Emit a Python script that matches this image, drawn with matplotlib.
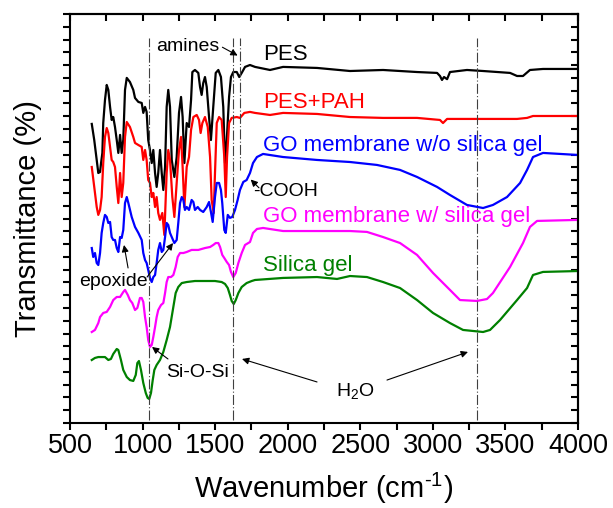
import matplotlib
matplotlib.use("Agg")
import matplotlib.pyplot as plt
from matplotlib.ticker import MultipleLocator, NullFormatter

plt.rcParams['font.family'] = ['Liberation Sans', 'DejaVu Sans']
plt.rcParams['mathtext.fontset'] = 'custom'
plt.rcParams['mathtext.rm'] = 'Liberation Sans'
plt.rcParams['mathtext.it'] = 'Liberation Sans:italic'

# FTIR spectra (wavenumber in cm-1, transmittance in a.u., offset)
pes_x = [650, 667, 684, 695, 707, 714, 723, 729, 741, 753, 764, 776, 787, 798, 810, 822, 833,
         845, 856, 867, 879, 891, 913, 936, 948, 971, 994, 1005, 1017, 1028, 1039, 1051, 1063,
         1074, 1086, 1097, 1108, 1120, 1132, 1143, 1155, 1166, 1177, 1189, 1201, 1219, 1235,
         1251, 1265, 1276, 1288, 1304, 1320, 1334, 1343, 1361, 1384, 1396, 1407, 1418, 1430,
         1442, 1458, 1471, 1487, 1504, 1522, 1540, 1556, 1568, 1580, 1596, 1609, 1625, 1649,
         1666, 1683, 1706, 1740, 1775, 1878, 1968, 2202, 2429, 2657, 2891, 3029, 3049, 3063,
         3077, 3098, 3118, 3235, 3346, 3532, 3580, 3621, 3669, 3759, 4000]
pes_y = [23.40, 22.14, 20.58, 19.56, 19.64, 20.34, 21.13, 23.47, 25.27, 26.45, 26.06, 24.73,
         23.71, 23.94, 23.16, 22.14, 21.13, 22.54, 21.13, 22.14, 26.06, 27.00, 26.68, 26.06,
         25.43, 25.12, 25.04, 24.26, 24.73, 24.34, 22.14, 21.36, 20.34, 21.36, 19.56, 18.47,
         19.56, 21.36, 19.56, 18.23, 20.03, 24.73, 26.06, 24.73, 20.58, 19.25, 20.81, 24.26,
         25.51, 23.94, 20.34, 23.47, 23.16, 25.27, 27.46, 27.62, 27.39, 26.29, 25.67, 26.60,
         27.07, 26.29, 23.94, 22.14, 24.73, 27.39, 27.62, 27.07, 24.73, 20.34, 22.14, 25.51,
         27.07, 27.46, 27.46, 27.07, 27.39, 27.86, 28.01, 27.86, 27.62, 27.86, 27.78, 27.54,
         27.62, 27.46, 27.39, 27.15, 26.84, 27.07, 26.90, 27.46, 27.62, 27.54, 27.39, 27.15,
         27.15, 27.62, 27.70, 27.70]

pah_x = [650, 667, 684, 695, 707, 718, 729, 741, 753, 764, 776, 787, 798, 810, 822, 833, 845,
         856, 867, 879, 891, 913, 936, 948, 971, 994, 1005, 1017, 1028, 1039, 1051, 1063, 1074,
         1086, 1097, 1108, 1120, 1136, 1150, 1166, 1177, 1189, 1205, 1219, 1235, 1251, 1265,
         1276, 1288, 1304, 1320, 1334, 1350, 1373, 1389, 1400, 1412, 1430, 1449, 1465, 1476,
         1490, 1499, 1511, 1527, 1545, 1563, 1573, 1582, 1596, 1614, 1649, 1671, 1701, 1740,
         1775, 1878, 1968, 2202, 2429, 2657, 2891, 3049, 3070, 3098, 3304, 3580, 3649, 3690, 4000]
pah_y = [20.03, 18.47, 16.90, 16.28, 16.67, 17.68, 20.34, 22.38, 23.08, 22.69, 21.60, 20.58,
         20.42, 20.03, 18.47, 17.21, 19.56, 17.68, 18.78, 22.38, 23.55, 23.16, 22.38, 21.91,
         21.75, 21.60, 20.58, 21.36, 20.58, 19.01, 18.78, 17.68, 18.00, 16.90, 17.68, 16.43,
         15.89, 16.43, 14.71, 19.56, 21.36, 20.58, 17.68, 16.12, 18.78, 21.36, 22.38, 20.03,
         16.90, 20.03, 20.81, 22.93, 23.94, 24.10, 23.71, 22.69, 23.47, 23.94, 23.16, 20.81,
         17.45, 16.43, 19.56, 23.47, 23.94, 23.71, 20.81, 17.68, 20.81, 23.47, 23.87, 23.94,
         23.87, 24.26, 24.34, 24.26, 24.10, 24.26, 24.18, 23.94, 23.87, 23.87, 23.71, 23.47,
         23.79, 23.79, 23.79, 23.87, 24.02, 24.02]

go_x = [650, 660, 672, 684, 695, 707, 718, 729, 741, 753, 764, 776, 787, 798, 810, 822, 833,
        845, 856, 867, 879, 891, 902, 925, 948, 971, 994, 1005, 1017, 1028, 1039, 1051, 1063,
        1074, 1086, 1097, 1108, 1120, 1132, 1143, 1155, 1166, 1177, 1189, 1201, 1219, 1235,
        1246, 1258, 1270, 1281, 1292, 1304, 1320, 1338, 1350, 1361, 1380, 1396, 1418, 1442,
        1458, 1471, 1483, 1499, 1511, 1527, 1540, 1549, 1563, 1573, 1587, 1602, 1618, 1637,
        1655, 1671, 1694, 1717, 1740, 1761, 1788, 1830, 1968, 2202, 2429, 2615, 2774, 2891,
        3029, 3118, 3235, 3346, 3414, 3511, 3601, 3649, 3690, 3759, 4000]
go_y = [13.69, 12.99, 13.30, 12.52, 12.36, 13.30, 14.87, 15.65, 16.28, 16.12, 15.65, 15.73,
        14.55, 14.32, 14.32, 13.69, 13.38, 14.55, 14.48, 15.10, 17.21, 17.68, 17.21, 16.12,
        15.34, 14.87, 14.32, 13.30, 12.75, 12.52, 11.97, 11.35, 11.03, 11.42, 11.58, 12.52,
        13.54, 14.08, 13.38, 13.54, 14.55, 15.65, 15.49, 14.87, 14.55, 14.08, 14.32, 15.65,
        17.21, 17.68, 17.45, 16.67, 16.90, 16.67, 17.45, 17.29, 16.67, 16.90, 16.67, 16.51,
        16.90, 17.29, 16.51, 15.73, 17.68, 18.78, 18.78, 18.23, 17.21, 15.10, 14.87, 16.28,
        16.05, 16.12, 16.67, 17.45, 18.23, 18.86, 19.01, 19.56, 20.34, 20.81, 21.05, 20.81,
        20.58, 20.42, 20.19, 19.80, 19.25, 18.47, 17.84, 17.06, 16.82, 17.06, 17.68, 18.78,
        19.80, 20.81, 21.13, 20.97]

gos_x = [650, 672, 695, 707, 729, 753, 776, 798, 822, 845, 867, 879, 898, 913, 929, 948, 964,
         982, 994, 1005, 1017, 1028, 1039, 1051, 1063, 1074, 1086, 1097, 1108, 1127, 1143, 1155,
         1166, 1177, 1196, 1212, 1228, 1242, 1258, 1281, 1304, 1338, 1384, 1430, 1465, 1487,
         1504, 1522, 1534, 1549, 1563, 1580, 1596, 1609, 1625, 1642, 1660, 1683, 1706, 1740,
         1761, 1788, 1830, 1968, 2202, 2429, 2546, 2657, 2774, 2891, 3001, 3118, 3187, 3304,
         3373, 3414, 3532, 3621, 3669, 3718, 4000]
gos_y = [7.12, 7.28, 7.82, 8.29, 8.61, 8.69, 9.08, 9.62, 9.86, 9.86, 10.25, 10.41, 10.02, 9.62,
         9.39, 8.84, 9.00, 9.78, 9.78, 9.47, 8.29, 7.51, 6.49, 5.95, 6.10, 6.73, 7.51, 8.29, 8.84,
         9.23, 9.39, 10.17, 11.03, 11.42, 11.42, 11.58, 12.21, 12.99, 13.30, 13.30, 13.38, 13.54,
         13.54, 13.69, 13.77, 13.93, 14.08, 14.08, 13.77, 13.15, 12.91, 12.60, 12.36, 11.82,
         11.42, 11.74, 12.52, 13.30, 13.93, 14.16, 14.87, 15.18, 15.26, 15.02, 15.02, 15.02,
         14.95, 14.55, 14.08, 13.15, 11.74, 10.41, 9.62, 9.55, 9.70, 10.17, 12.21, 14.08, 15.34,
         15.81, 15.89]

si_x = [650, 672, 695, 718, 741, 764, 782, 798, 822, 833, 851, 867, 891, 913, 936, 953, 964,
        975, 989, 1005, 1022, 1035, 1046, 1058, 1070, 1081, 1097, 1120, 1143, 1166, 1189, 1212,
        1228, 1246, 1270, 1304, 1361, 1430, 1499, 1545, 1568, 1587, 1602, 1614, 1628, 1642,
        1660, 1683, 1717, 1752, 1775, 1968, 2202, 2340, 2429, 2546, 2657, 2774, 2891, 3001,
        3118, 3208, 3346, 3394, 3463, 3580, 3649, 3690, 3759, 4000]
si_y = [4.93, 5.09, 5.16, 5.16, 5.16, 4.93, 5.01, 5.40, 5.79, 5.71, 4.93, 4.15, 3.60, 3.36,
        3.29, 3.76, 4.69, 4.85, 4.15, 3.13, 2.35, 1.96, 1.88, 2.35, 3.36, 4.15, 4.54, 4.93, 5.56,
        6.49, 7.51, 9.08, 10.17, 10.64, 10.95, 11.03, 11.11, 11.11, 11.11, 11.03, 10.88, 10.56,
        10.02, 9.55, 9.31, 9.62, 10.17, 10.64, 10.95, 11.11, 11.19, 11.35, 11.42, 11.27, 11.50,
        11.42, 11.03, 10.56, 9.62, 8.61, 7.82, 7.28, 7.12, 7.28, 8.06, 9.62, 10.56, 11.58,
        11.82, 11.89]

labels = ['PES', 'PES+PAH', 'GO membrane w/o silica gel', 'GO membrane w/ silica gel', 'Silica gel']
colors = ['black', '#ff0000', '#0000ff', '#ff00ff', '#008000']
label_y = [28.87, 25.04, 21.75, 16.12, 12.29]

# marker lines (cm-1): Si-O-Si, H2O bend, amines, H2O stretch
guide_x = [1046, 1625, 1671, 3304]
guide_top = [30.1, 30.1, 30.1, 30.1]
guide_bottom = [0.2, 0.2, 19.8, 0.2]

fig = plt.figure(figsize=(6.13, 5.08), dpi=100)
ax = fig.add_axes([70 / 613, 85 / 508, 508 / 613, 409 / 508])

series = [(pes_x, pes_y), (pah_x, pah_y), (go_x, go_y), (gos_x, gos_y), (si_x, si_y)]
for (x, y), c in zip(series, colors):
    ax.plot(x, y, color=c, lw=1.6)

for gx, gt, gb in zip(guide_x, guide_top, guide_bottom):
    ax.plot([gx, gx], [gb, gt], color='0.25', lw=0.8, ls=(0, (9, 2, 1, 2)))

for lab, c, ly in zip(labels, colors, label_y):
    ax.text(1830, ly, lab, color=c, fontsize=16, ha='left', va='center')

arw = dict(arrowstyle='-|>', color='black', lw=0.8, mutation_scale=10, shrinkA=0, shrinkB=0)
ax.text(1313, 29.42, 'amines', fontsize=14, ha='center', va='center')
ax.annotate('', xy=(1655, 28.75), xytext=(1550, 29.4), arrowprops=arw)
ax.text(1765, 18.15, '-COOH', fontsize=14, ha='left', va='center')
ax.annotate('', xy=(1745, 19.05), xytext=(1802, 18.4), arrowprops=arw)
ax.text(796, 11.11, 'epoxide', fontsize=14, ha='center', va='center')
ax.annotate('', xy=(872, 13.93), xytext=(900, 12.13), arrowprops=arw)
ax.annotate('', xy=(1210, 14.08), xytext=(1031, 11.42), arrowprops=arw)
ax.text(1382, 3.99, 'Si-O-Si', fontsize=14, ha='center', va='center')
ax.annotate('', xy=(1065, 5.95), xytext=(1175, 5.01), arrowprops=arw)
ax.text(2464, 2.50, 'H$_2$O', fontsize=14, ha='center', va='center')
ax.annotate('', xy=(1685, 5.01), xytext=(2202, 3.21), arrowprops=arw)
ax.annotate('', xy=(3242, 5.56), xytext=(2684, 3.36), arrowprops=arw)

ax.set_xlim(500, 4000)
ax.set_ylim(0, 32)
ax.xaxis.set_major_locator(MultipleLocator(500))
ax.xaxis.set_minor_locator(MultipleLocator(250))
ax.yaxis.set_major_locator(MultipleLocator(1))
ax.yaxis.set_major_formatter(NullFormatter())
ax.tick_params(axis='both', which='both', direction='out', length=5, width=1.5,
               top=False, right=False)
ax.tick_params(axis='x', labelsize=19.5, pad=2)

top = ax.secondary_xaxis('top')
top.xaxis.set_major_locator(MultipleLocator(250))
top.tick_params(direction='in', length=5, width=1.5, labeltop=False)
right = ax.secondary_yaxis('right')
right.yaxis.set_major_locator(MultipleLocator(1))
right.tick_params(direction='in', length=5, width=1.5, labelright=False)

for s in list(ax.spines.values()) + [top.spines['top'], right.spines['right']]:
    s.set_linewidth(1.5)

ax.set_xlabel(r'Wavenumber (cm$^{\text{-1}}$)', fontsize=21, labelpad=9)
ax.set_ylabel('Transmittance (%)', fontsize=21, labelpad=12)

fig.savefig('out.png', dpi=100)
